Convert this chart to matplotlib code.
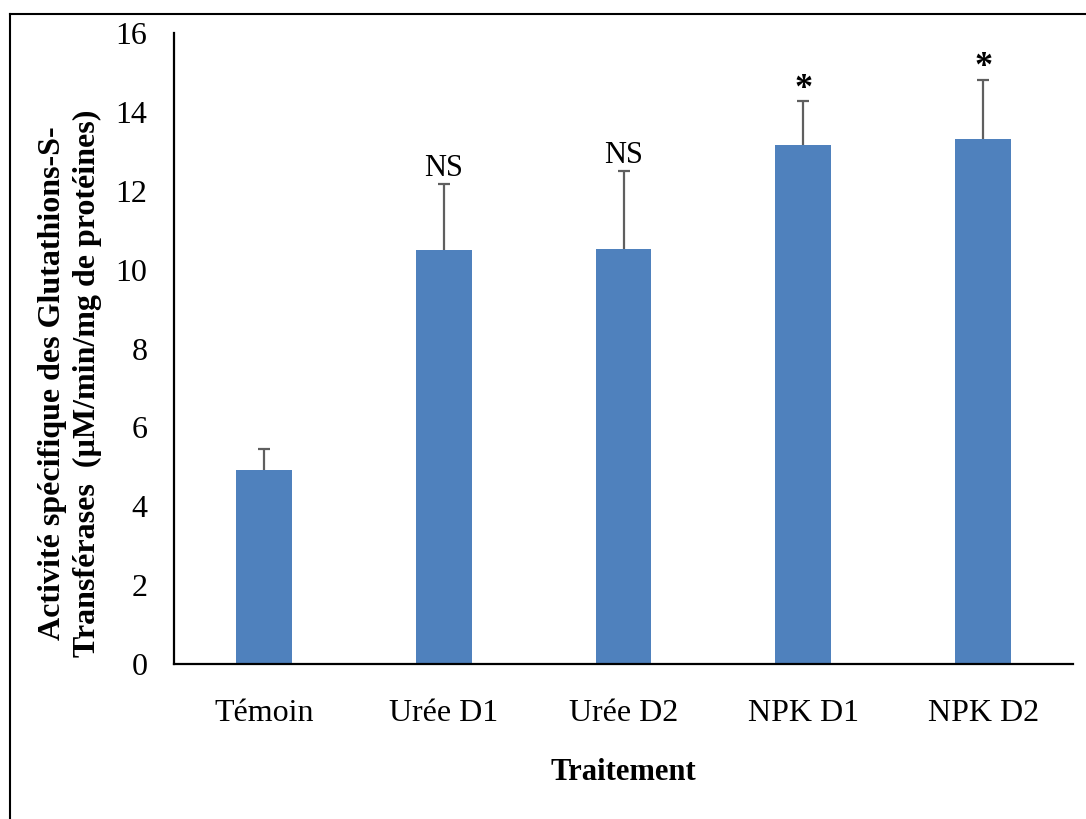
import numpy as np
import matplotlib.pyplot as plt
from matplotlib.lines import Line2D

# data
traitements = ['Témoin', 'Urée D1', 'Urée D2', 'NPK D1', 'NPK D2']
activite = [4.92, 10.50, 10.52, 13.15, 13.30]
erreur = [0.53, 1.68, 1.98, 1.13, 1.52]
signif = ['', 'NS', 'NS', '*', '*']

plt.rcParams['font.family'] = ['Liberation Serif', 'DejaVu Serif']

fig = plt.figure(figsize=(10.86, 8.19), dpi=100)
ax = fig.add_axes([174/1086, 1-664/819, (1073-174)/1086, (664-33)/819])

x = np.arange(len(traitements))
ax.bar(x, activite, width=0.31, color='#4F81BD', zorder=2)
eb = ax.errorbar(x, activite, yerr=[np.zeros(len(erreur)), erreur], fmt='none',
                 ecolor='#5f5f5f', elinewidth=1.6, capsize=4.5, capthick=1.6, zorder=3)
# only the upper caps (the lower ones sit on the bar tops)
for cap in eb[1]:
    if np.allclose(cap.get_ydata(), activite):
        cap.set_visible(False)

# significance marks above the error bars
for xi, v, e, s in zip(x, activite, erreur, signif):
    if s == 'NS':
        ax.text(xi, v + e + 0.02, s, ha='center', va='bottom', fontsize=22)
    elif s == '*':
        ax.text(xi, v + e - 0.12, s, ha='center', va='bottom', fontsize=26, fontweight='bold')

ax.set_xlim(-0.5, len(traitements) - 0.5)
ax.set_ylim(0, 16)
ax.set_yticks(np.arange(0, 17, 2))
ax.set_xticks(x)
ax.set_xticklabels(traitements)
ax.tick_params(axis='both', length=0, labelsize=23)
ax.tick_params(axis='y', pad=19)
ax.tick_params(axis='x', pad=25)
for side in ['top', 'right']:
    ax.spines[side].set_visible(False)
for side in ['left', 'bottom']:
    ax.spines[side].set_linewidth(1.6)

fig.text(70/1086, 1-383/819,
         'Activité spécifique des Glutathions-S-\nTransférases  (µM/min/mg de protéines)',
         rotation=90, ha='center', va='center', fontsize=23, fontweight='bold',
         linespacing=1.25)
fig.text(623/1086, 1-772/819, 'Traitement', ha='center', va='center',
         fontsize=22, fontweight='bold')

# outer frame (left and top edges visible in the reference)
fig.add_artist(Line2D([10/1086, 10/1086], [0, 1-14/819], color='black', lw=1.5,
                      transform=fig.transFigure))
fig.add_artist(Line2D([10/1086, 1], [1-14/819, 1-14/819], color='black', lw=1.5,
                      transform=fig.transFigure))

fig.savefig('out.png', dpi=100)
